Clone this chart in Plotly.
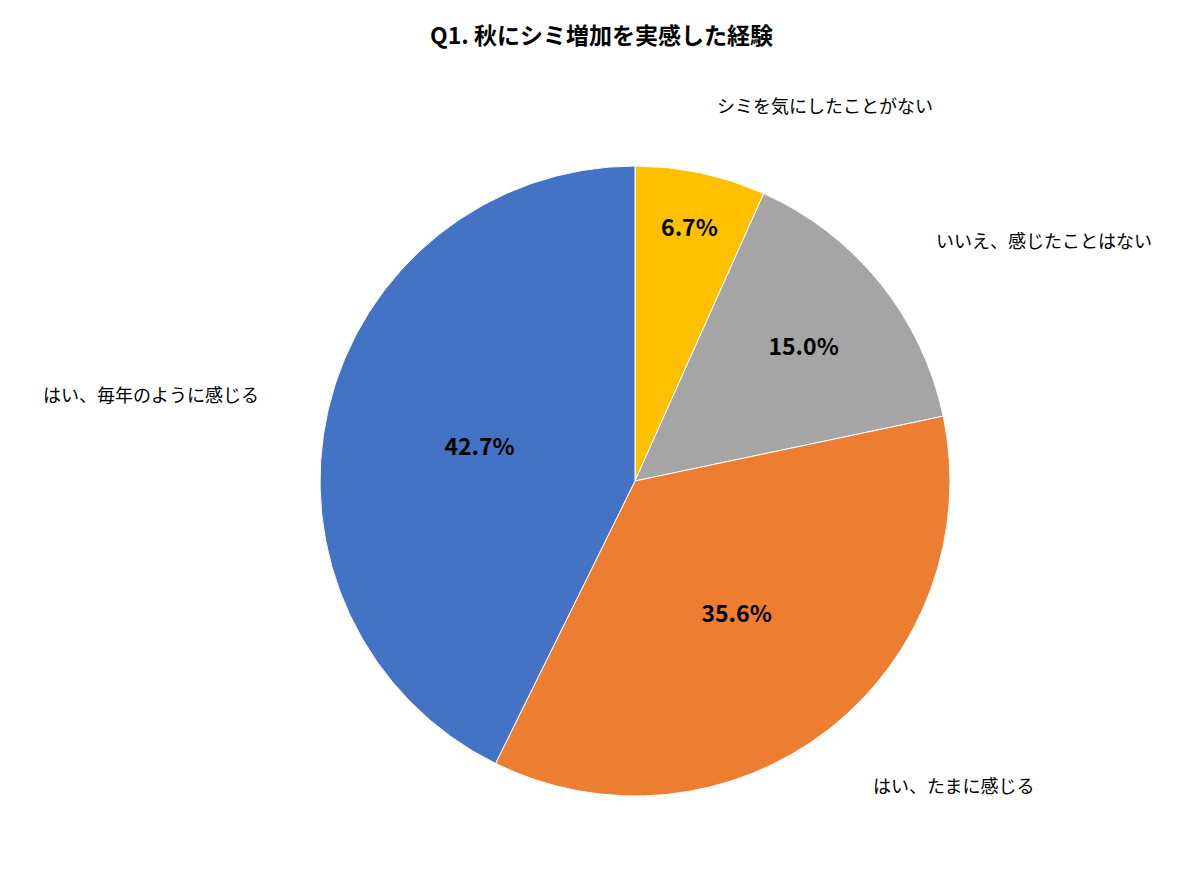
import math
import plotly.graph_objects as go

labels = ["シミを気にしたことがない", "いいえ、感じたことはない", "はい、たまに感じる", "はい、毎年のように感じる"]
values = [6.7, 15.0, 35.6, 42.7]
colors = ["#FFC000", "#A5A5A5", "#ED7D31", "#4472C4"]

W, H = 1187, 883
cx, cy, R = 627, 473, 315

fig = go.Figure(go.Pie(
    labels=labels, values=values, sort=False, direction="clockwise", rotation=0,
    marker=dict(colors=colors, line=dict(color="white", width=1)),
    texttemplate="%{value:.1f}%", textposition="inside", insidetextorientation="horizontal",
    textfont=dict(family="Noto Sans CJK JP", size=23, color="black", weight="bold"),
    domain=dict(x=[(cx - R) / W, (cx + R) / W], y=[(H - cy - R) / H, (H - cy + R) / H]),
    showlegend=False, hoverinfo="label+percent",
))

total = sum(values)
cum = 0
for lab, v in zip(labels, values):
    mid = (cum + v / 2) / total * 2 * math.pi
    cum += v
    r = R * 1.22
    px = cx + r * math.sin(mid)
    py = cy - r * math.cos(mid)
    fig.add_annotation(x=px / W, y=1 - py / H, xref="paper", yref="paper", text=lab,
                       showarrow=False, xanchor="left" if math.sin(mid) > 0 else "right",
                       yanchor="middle", font=dict(family="Noto Sans CJK JP", size=18, color="black"))

fig.update_layout(
    width=W, height=H, margin=dict(l=0, r=0, t=0, b=0), paper_bgcolor="white",
    title=dict(text="<b>Q1. 秋にシミ増加を実感した経験</b>", x=0.5, xanchor="center", y=1 - 28 / H, yanchor="middle",
               font=dict(family="Noto Sans CJK JP", size=23, color="black")),
)
fig.write_html("out.html")
